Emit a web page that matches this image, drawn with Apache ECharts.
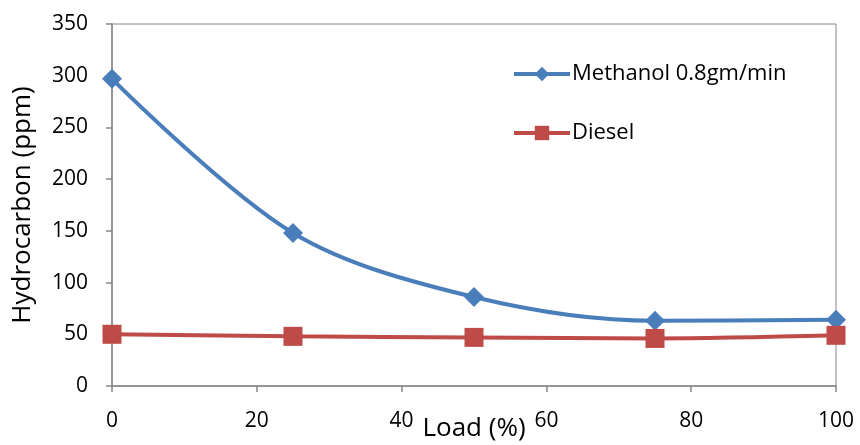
<!DOCTYPE html>
<html>
<head>
<meta charset="utf-8">
<script src="https://cdn.jsdelivr.net/npm/echarts@6/dist/echarts.min.js"></script>
<style>
  html, body { margin: 0; padding: 0; background: #fff; }
  #chart { width: 860px; height: 445px; }
</style>
</head>
<body>
<div id="chart"></div>
<script>
// Engine load (%) and hydrocarbon emissions (ppm)
const loads = [0, 25, 50, 75, 100];
const methanolHC = [297, 148, 86, 63, 64];
const dieselHC = [50, 48, 47, 46, 49];
const seriesNames = ['Methanol 0.8gm/min', 'Diesel'];

const FONT = '"Open Sans", sans-serif';
const AXIS_GREY = '#868686';

const pairs = (xs, ys) => xs.map((x, i) => [x, ys[i]]);

const chart = echarts.init(document.getElementById('chart'), null, { renderer: 'canvas' });
chart.setOption({
  animation: false,
  backgroundColor: '#fff',
  textStyle: { fontFamily: FONT, color: '#000' },
  grid: {
    left: 112, top: 24, width: 724, height: 362,
    containLabel: false, outerBoundsMode: 'none',
    show: true, borderColor: AXIS_GREY, borderWidth: 1, backgroundColor: 'transparent'
  },
  legend: {
    orient: 'vertical',
    left: 512, top: 63, padding: 0,
    itemWidth: 56, itemHeight: 18, itemGap: 37,
    lineStyle: { width: 4 },
    textStyle: { fontFamily: FONT, fontSize: 22, color: '#000', padding: [0, 0, 0, -3] },
    data: seriesNames
  },
  xAxis: {
    type: 'value', min: 0, max: 100, interval: 20,
    name: 'Load (%)', nameLocation: 'middle', nameGap: 30, nameMoveOverlap: false,
    nameTextStyle: { fontFamily: FONT, fontSize: 26, color: '#000' },
    axisLine: { show: true, lineStyle: { color: AXIS_GREY, width: 1.5 } },
    axisTick: { show: true, length: 6, lineStyle: { color: AXIS_GREY, width: 1.5 } },
    axisLabel: { fontFamily: FONT, fontSize: 21, color: '#000', margin: 25 },
    splitLine: { show: false }
  },
  yAxis: {
    type: 'value', min: 0, max: 350, interval: 50,
    name: 'Hydrocarbon (ppm)', nameLocation: 'middle', nameGap: 76, nameRotate: 90,
    nameMoveOverlap: false,
    nameTextStyle: { fontFamily: FONT, fontSize: 26, color: '#000' },
    axisLine: { show: true, lineStyle: { color: AXIS_GREY, width: 1.5 } },
    axisTick: { show: true, length: 6, lineStyle: { color: AXIS_GREY, width: 1.5 } },
    axisLabel: { fontFamily: FONT, fontSize: 21, color: '#000', margin: 24 },
    splitLine: { show: false }
  },
  series: [
    {
      name: seriesNames[0], type: 'line', smooth: 0.33,
      data: pairs(loads, methanolHC),
      symbol: 'diamond', symbolSize: [20, 20],
      lineStyle: { color: '#4A7EBB', width: 4 },
      itemStyle: { color: '#4A7EBB' }
    },
    {
      name: seriesNames[1], type: 'line', smooth: 0.33,
      data: pairs(loads, dieselHC),
      symbol: 'rect', symbolSize: 19,
      lineStyle: { color: '#BE4B48', width: 4 },
      itemStyle: { color: '#BE4B48' }
    }
  ]
});
</script>
</body>
</html>
